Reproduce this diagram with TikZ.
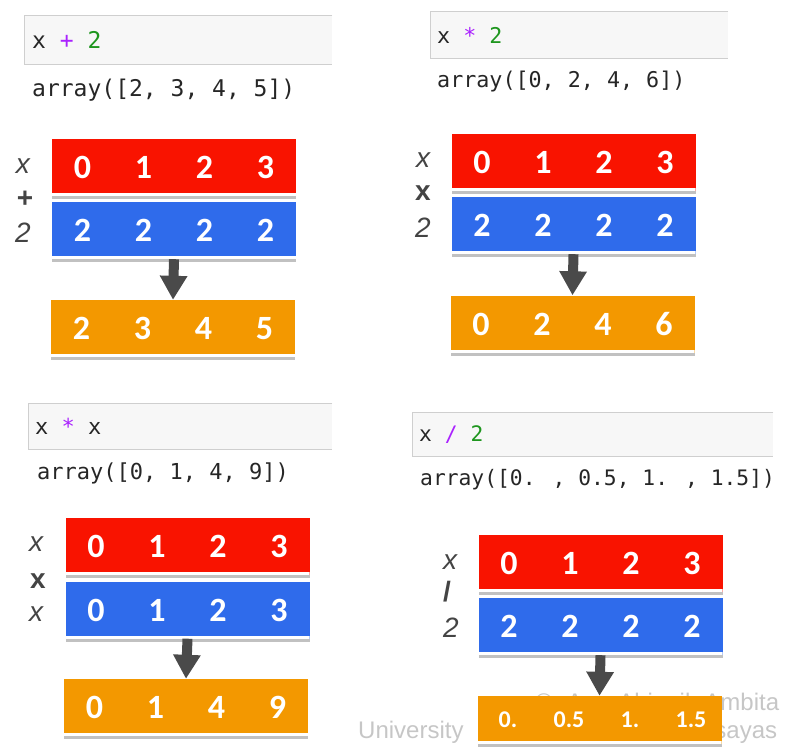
\documentclass[tikz,border=0pt]{standalone}
\usepackage{fontspec}
\usetikzlibrary{arrows.meta,shadows,positioning}
\newfontfamily\monofam{DejaVu Sans Mono}
\newfontfamily\barfam{Carlito}
\newfontfamily\lblfam{Liberation Sans}
\definecolor{barred}{HTML}{F91300}
\definecolor{barblue}{HTML}{2F6BEB}
\definecolor{barorange}{HTML}{F39800}
\definecolor{arrowgray}{HTML}{4A4A4A}
\definecolor{lblgray}{HTML}{444444}
\definecolor{cellbg}{HTML}{F7F7F7}
\definecolor{cellline}{HTML}{CFCFCF}
\definecolor{oppurple}{HTML}{AA22FF}
\definecolor{numgreen}{HTML}{1E961E}
\definecolor{wmgray}{HTML}{C6C6C6}
\newcommand\fourcells[4]{\makebox[61pt]{#1}\makebox[61pt]{#2}\makebox[61pt]{#3}\makebox[61pt]{#4}}
\newcommand\cellborder[1]{\draw[draw=cellline,line width=1pt] (#1.north east) -- (#1.north west) -- (#1.south west) -- (#1.south east);}
\tikzset{
  codecell/.style={fill=cellbg, anchor=north west, inner sep=0pt},
  codetext/.style={anchor=west, inner sep=0pt, text=black!85, font=\monofam\fontsize{#1}{#1}\selectfont},
  bar/.style={minimum width=244pt, minimum height=57pt, inner sep=0pt, text=white,
    font=\barfam\bfseries\fontsize{34}{34}\selectfont,
    path picture={\fill[white] (path picture bounding box.south west) rectangle ([yshift=3pt]path picture bounding box.south east);},
    drop shadow={shadow xshift=0pt, shadow yshift=-3pt, fill=black!70, opacity=0.35}},
  lbl/.style={inner sep=0pt, text=lblgray, font=\lblfam\fontsize{28}{28}\selectfont},
  res arrow/.style={draw=arrowgray, line width=10pt, -{Triangle[width=26pt,length=24pt]}},
  wmtext/.style={anchor=base west, inner sep=0pt, text=wmgray, font=\lblfam\fontsize{24}{24}\selectfont}
}
\begin{document}
\begin{tikzpicture}[x=1pt,y=-1pt]
\useasboundingbox (0,0) rectangle (794,752);
\node[wmtext] (wm1 node) at (535,710) {\makebox[244pt][s]{© Ara Abigail Ambita}};
\node[wmtext] (wm2 node) at (358,738) {\makebox[419pt][s]{University of the Philippines Visayas}};

\node[codecell, minimum width=308pt, minimum height=48pt] (cell1 node) at (24,16) {};
\cellborder{cell1 node}
\node[codetext=23, right=8pt of cell1 node.west] (in1 node) {x \textcolor{oppurple}{+} \textcolor{numgreen}{2}};
\node[codetext=23] (out1 node) at (32,90) {array([2, 3, 4, 5])};
\node[bar, fill=barred] (x1 node) at (174,167.5) {\fourcells0123};
\node[bar, fill=barblue] (y1 node) at (174,230.5) {\fourcells2222};
\node[bar, fill=barorange] (r1 node) at (173,328.5) {\fourcells2345};
\node[lbl] (lx1 node) at (23,166) {\itshape x};
\node[lbl] (op1 node) at (25,199) {\bfseries +};
\node[lbl] (ly1 node) at (23,233) {\itshape 2};
\draw[res arrow] (y1 node.south) -- (r1 node.north);

\node[codecell, minimum width=298pt, minimum height=46pt] (cell2 node) at (430,12) {};
\cellborder{cell2 node}
\node[codetext=21.7, right=7pt of cell2 node.west] (in2 node) {x \textcolor{oppurple}{*} \textcolor{numgreen}{2}};
\node[codetext=21.7] (out2 node) at (437,82) {array([0, 2, 4, 6])};
\node[bar, fill=barred] (x2 node) at (573.5,162.5) {\fourcells0123};
\node[bar, fill=barblue] (y2 node) at (573.5,225.5) {\fourcells2222};
\node[bar, fill=barorange] (r2 node) at (572.5,324) {\fourcells0246};
\node[lbl] (lx2 node) at (423,160) {\itshape x};
\node[lbl] (op2 node) at (423,193) {\bfseries x};
\node[lbl] (ly2 node) at (423,228) {\itshape 2};
\draw[res arrow] (y2 node.south) -- (r2 node.north);

\node[codecell, minimum width=304pt, minimum height=46pt] (cell3 node) at (28,403) {};
\cellborder{cell3 node}
\node[codetext=22, right=7pt of cell3 node.west] (in3 node) {x \textcolor{oppurple}{*} x};
\node[codetext=22] (out3 node) at (37,473) {array([0, 1, 4, 9])};
\node[bar, fill=barred] (x3 node) at (187.5,546.5) {\fourcells0123};
\node[bar, fill=barblue] (y3 node) at (187.5,610) {\fourcells0123};
\node[bar, fill=barorange] (r3 node) at (186,707.5) {\fourcells0149};
\node[lbl] (lx3 node) at (36,544) {\itshape x};
\node[lbl] (op3 node) at (38,581) {\bfseries x};
\node[lbl] (ly3 node) at (36,614) {\itshape x};
\draw[res arrow] (y3 node.south) -- (r3 node.north);

\node[codecell, minimum width=361pt, minimum height=44pt] (cell4 node) at (412,412) {};
\cellborder{cell4 node}
\node[codetext=21.3, right=7pt of cell4 node.west] (in4 node) {x \textcolor{oppurple}{/} \textcolor{numgreen}{2}};
\node[codetext=21.3] (out4 node) at (420,480) {array([0. , 0.5, 1. , 1.5])};
\node[bar, fill=barred] (x4 node) at (600.5,563) {\fourcells0123};
\node[bar, fill=barblue] (y4 node) at (600.5,626.5) {\fourcells2222};
\node[bar, fill=barorange, minimum height=48pt, font=\barfam\bfseries\fontsize{24}{24}\selectfont] (r4 node) at (599.5,720) {\fourcells{0.}{0.5}{1.}{1.5}};
\node[lbl] (lx4 node) at (450,562) {\itshape x};
\node[lbl] (op4 node) at (447,592) {\bfseries /};
\node[lbl] (ly4 node) at (451,628) {\itshape 2};
\draw[res arrow] (y4 node.south) -- (r4 node.north);
\end{tikzpicture}
\end{document}
